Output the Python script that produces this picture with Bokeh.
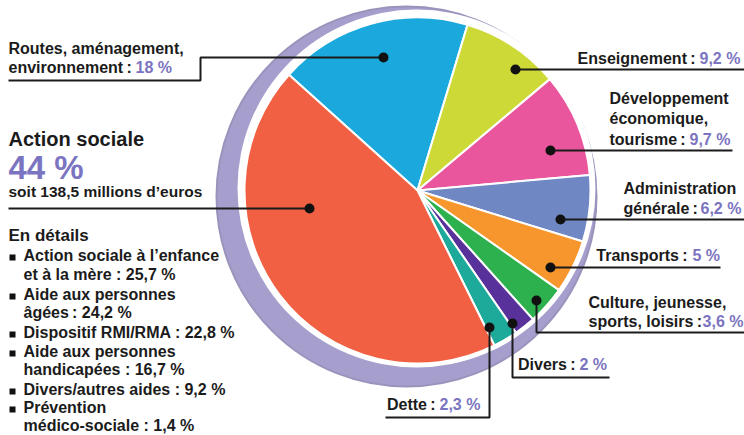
import math
from bokeh.plotting import figure
from bokeh.models import Range1d, ColumnDataSource
from bokeh.core.properties import value
from bokeh.embed import file_html
from bokeh.resources import INLINE

# ---------------- data ----------------
categories = ["Routes, aménagement, environnement", "Enseignement",
              "Développement économique, tourisme", "Administration générale",
              "Transports", "Culture, jeunesse, sports, loisirs", "Divers",
              "Dette", "Action sociale"]
shares = [18, 9.2, 9.7, 6.2, 5, 3.6, 2, 2.3, 44]
colors = ["#1ba9dd", "#cdd936", "#ea569d", "#6f88c4", "#f7962c",
          "#2db14f", "#58319b", "#1eaa9b", "#f16042"]

detail_labels = [["Action sociale à l\u2019enfance", "et à la mère : "],
                 ["Aide aux personnes", "âgées\u2009: "],
                 ["Dispositif RMI/RMA : "],
                 ["Aide aux personnes", "handicapées : "],
                 ["Divers/autres aides : "],
                 ["Prévention", "médico-sociale : "]]
detail_values = [25.7, 24.2, 22.8, 16.7, 9.2, 1.4]
total_social = "soit 138,5 millions d\u2019euros"


def pct(v):
    s = ("%g" % v).replace(".", ",")
    return s + " %"


# ---------------- layout ----------------
FONT = "Liberation Sans"
DARK = "#1b1b1b"
PURPLE = "#7b74c0"
W, H = 744, 435


def Y(y):
    return H - y


p = figure(width=W, height=H, output_backend="svg", toolbar_location=None,
           x_range=Range1d(0, W), y_range=Range1d(0, H),
           x_axis_location=None, y_axis_location=None, min_border=0)
p.grid.visible = False
p.outline_line_color = None
p.background_fill_color = "white"

# plate / shadow
p.circle(x=[406], y=[Y(196)], radius=190, fill_color="#a69ecd",
         line_color="#9a93bb", line_width=2)
p.circle(x=[416], y=[Y(188)], radius=179, fill_color="white", line_color=None)

# pie
CX, CY, R = 417, Y(190), 173
start = math.radians(138)
starts, ends = [], []
cum = 0.0
for v in shares:
    hi = start - cum / 100 * 2 * math.pi
    lo = hi - v / 100 * 2 * math.pi
    starts.append(lo)
    ends.append(hi)
    cum += v
src = ColumnDataSource(dict(cat=categories, share=shares, color=colors,
                            start=starts, end=ends))
p.wedge(x=CX, y=CY, radius=R, start_angle="start", end_angle="end",
        direction="anticlock", fill_color="color", line_color="white",
        line_width=2, source=src)

# leader lines (image coords) per category order
paths = [
    [(383, 57), (200, 57), (200, 80), (8, 80)],
    [(515, 69), (744, 69)],
    [(550, 150), (732, 150)],
    [(560, 219), (744, 219)],
    [(550, 267), (720, 267)],
    [(536, 300), (536, 332), (744, 332)],
    [(512, 323), (512, 377), (609, 377)],
    [(489, 327), (489, 417), (385, 417)],
    [(309, 208), (8, 208)],
]
p.multi_line(xs=[[pt[0] for pt in pth] for pth in paths],
             ys=[[Y(pt[1]) for pt in pth] for pth in paths],
             line_color=DARK, line_width=2)
p.scatter(x=[pth[0][0] for pth in paths], y=[Y(pth[0][1]) for pth in paths],
          size=10, marker="circle", fill_color="#111111", line_color=None)


def txt(x, y, s, size=16, color=DARK, align="left"):
    p.text(x=[x], y=[Y(y)], text=[s], text_font=value(FONT),
           text_font_size=f"{size}px", text_font_style="bold",
           text_color=color, text_align=align, text_baseline="middle")


# Routes
txt(8, 48, "Routes, aménagement,")
txt(8, 67, "environnement\u2009:")
txt(135, 67, pct(shares[0]), color=PURPLE)
# Action sociale
txt(8, 138, categories[8], size=20)
txt(8, 167, pct(shares[8]), size=33, color=PURPLE)
txt(8, 191, total_social, size=15.5)
# Enseignement
txt(695, 58, "Enseignement\u2009:", align="right")
txt(699, 58, pct(shares[1]), color=PURPLE)
# Developpement
txt(609, 98, "Développement")
txt(609, 118, "économique,")
txt(609, 139, "tourisme\u2009:")
txt(689, 139, pct(shares[2]), color=PURPLE)
# Administration
txt(623, 188, "Administration")
txt(623, 208, "générale\u2009:")
txt(700, 208, pct(shares[3]), color=PURPLE)
# Transports
txt(687, 255, "Transports\u2009:", align="right")
txt(692, 255, pct(shares[4]), color=PURPLE)
# Culture
txt(588, 302, "Culture, jeunesse,")
txt(588, 321, "sports, loisirs\u2009:")
txt(743, 321, pct(shares[5]), color=PURPLE, align="right")
# Divers
txt(575, 364, "Divers\u2009:", align="right")
txt(579, 364, pct(shares[6]), color=PURPLE)
# Dette
txt(435, 404, "Dette\u2009:", align="right")
txt(439, 404, pct(shares[7]), color=PURPLE)

# En details
txt(8, 235, "En détails", size=17)
line_y = [255, 274, 294, 312, 332, 351, 369, 389, 407, 425]
k = 0
bx, by = [], []
for lab, v in zip(detail_labels, detail_values):
    lines = list(lab)
    lines[-1] = lines[-1] + pct(v)
    bx.append(12)
    by.append(Y(line_y[k] + 2))
    for ln in lines:
        txt(23, line_y[k], ln)
        k += 1
p.scatter(x=bx, y=by, marker="square", size=6, fill_color="#111111",
          line_color=None)

open("out.html", "w").write(file_html(p, INLINE))
